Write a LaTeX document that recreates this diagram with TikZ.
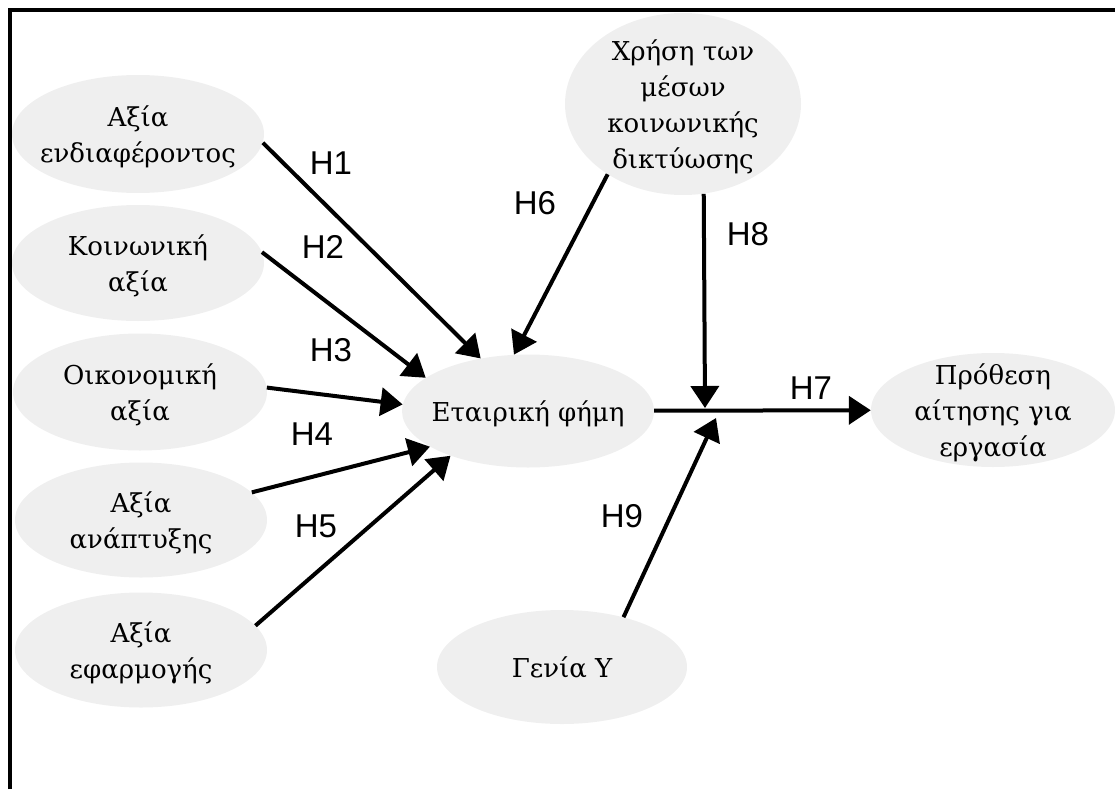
\documentclass[tikz,border=0pt]{standalone}
\usepackage{fontspec}
\setmainfont{DejaVu Serif}
\newfontfamily\labelfont{Liberation Sans}
\usetikzlibrary{shapes.geometric,arrows.meta}
\definecolor{bubblegray}{RGB}{239,239,239}
\newcommand{\bubbletext}[1]{\makebox[0pt]{\smash{\raisebox{-0.35em}{%
  \begin{tabular}{@{}c@{}}#1\end{tabular}}}}}

\begin{document}
\begin{tikzpicture}
[x=1pt,y=-1pt,
  nodedecorate/.style={shape=ellipse,fill=bubblegray,inner sep=0pt,
    font=\fontsize{26}{36}\selectfont},%
  linedecorate/.style={-{Triangle[length=22pt,width=28pt]},line width=4pt},%
  hypdecorate/.style={inner sep=0pt,font=\labelfont\fontsize{33}{36}\selectfont},%
  framedecorate/.style={line width=4pt}]
\useasboundingbox (0,0) rectangle (1115,789);
%% frame
\draw[framedecorate] (10,789) -- (10,10) -- (1115,10);
%% nodes or vertices
\foreach \nodename/\x/\y/\w/\h/\nodetext in {
  a1/138/134/252/118/{Αξία\\ενδιαφέροντος},
  a2/138/263/252/116/{Κοινωνική\\αξία},
  a3/140/392/254/117/{Οικονομική\\αξία},
  a4/141/520/252/115/{Αξία\\ανάπτυξης},
  a5/141/650/252/115/{Αξία\\εφαρμογής},
  fm/528/411/252/113/{Εταιρική φήμη},
  sm/683/104/236/182/{Χρήση των\\μέσων\\κοινωνικής\\δικτύωσης},
  gy/562/667/250/114/{Γενία Υ},
  pr/993/410/244/114/{Πρόθεση\\αίτησης για\\εργασία}}
{
  \node (\nodename) at (\x,\y) [nodedecorate,minimum width=\w pt,
    minimum height=\h pt] {\bubbletext{\nodetext}};
}
\coordinate (m8) at (705,408);
\coordinate (m9) at (716,418);
%% edges or lines
\path
\foreach \startnode/\endnode in {a1.-4/fm.132, a2.5/fm.162, a3.2/fm.177,
  a4.14/fm.200, a5.12/fm.210, sm.223/fm.104, fm/pr, sm.283/m8, gy.39/m9} {
  (\startnode) edge[linedecorate] (\endnode)
};
%% hypotheses
\foreach \labelname/\x/\y/\labeltext in {
  h1/331/163/H1, h2/323/247/H2, h3/331/350/H3, h4/312/434/H4,
  h5/316/526/H5, h6/535/203/H6, h7/811/388/H7, h8/748/234/H8,
  h9/622/516/H9}
{
  \node (\labelname) at (\x,\y) [hypdecorate] {\labeltext};
}
\end{tikzpicture}
\end{document}
